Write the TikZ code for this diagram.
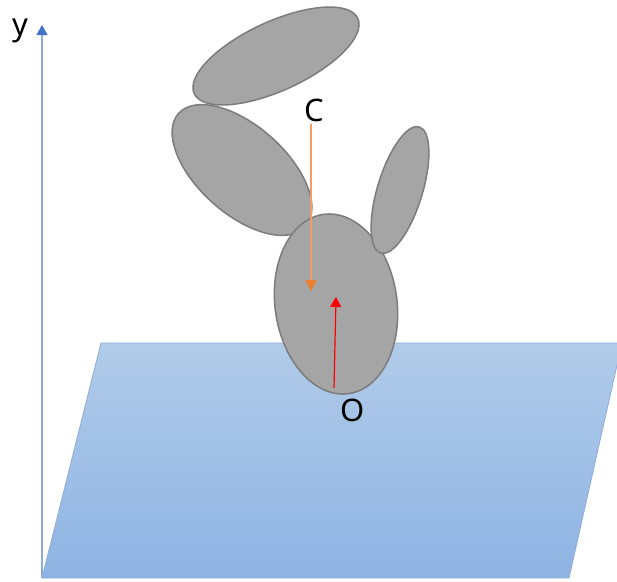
\documentclass[tikz,border=0pt]{standalone}
\usepackage{fontspec}
\setmainfont{Noto Sans}
\usetikzlibrary{shapes.geometric,arrows.meta}
\definecolor{PlaneTop}{HTML}{B1CBE9}
\definecolor{PlaneBottom}{HTML}{8EB4E3}
\definecolor{AxisBlue}{HTML}{8FAADC}
\definecolor{TipBlue}{HTML}{4472C4}
\definecolor{LimbGray}{HTML}{A5A5A5}
\definecolor{EdgeGray}{HTML}{7C7C7C}
\definecolor{ForceOrange}{HTML}{ED7D31}
\tikzset{
  limb/.style={ellipse,draw=EdgeGray,line width=1.5pt,fill=LimbGray,inner sep=0pt,outer sep=0pt},
  axislabel/.style={inner sep=0pt,font=\fontsize{31}{31}\selectfont}
}

\begin{document}
\begin{tikzpicture}[x=1pt,y=-1pt]
    \useasboundingbox (0,0) rectangle (617,581);
    \clip (0,0) rectangle (617,581);
    % ground plane
    \coordinate (planeA) at (101,343);
    \coordinate (planeB) at (622,343);
    \coordinate (planeC) at (569,578);
    \coordinate (planeD) at (42,578);
    \draw[draw=AxisBlue,line width=0.8pt,top color=PlaneTop,bottom color=PlaneBottom]
          (planeA) -- (planeB) -- (planeC) -- (planeD) -- cycle;
    % body parts
    \node[limb,minimum width=180pt,minimum height=69pt,rotate=24.7] (head) at (276,56) {};
    \node[limb,minimum width=170pt,minimum height=88pt,rotate=-41.7] (arm) at (242,170) {};
    \node[limb,minimum width=181pt,minimum height=122pt,rotate=98] (torso) at (336,304) {};
    \node[limb,minimum width=132pt,minimum height=45pt,rotate=73] (ear) at (400,190) {};
    % labels
    \node[axislabel] (ylabel) at (20,31) {y};
    \node[axislabel] (clabel) at (314,110) {C};
    \node[axislabel] (olabel) at (353,410) {O};
    % axis and forces
    \coordinate (origin) at (42,578);
    \coordinate (axistop) at (42,25);
    \coordinate (cstart) at (311,124);
    \coordinate (cend) at (311,291);
    \coordinate (ostart) at (334,388);
    \coordinate (oend) at (336,297);
    \draw[-{Triangle[length=10pt,width=11pt,color=TipBlue]},line width=1.2pt,color=AxisBlue] (origin) -- (axistop);
    \draw[-{Triangle[length=11pt,width=11pt,color=ForceOrange]},line width=1.2pt,color=ForceOrange!75] (cstart) -- (cend);
    \draw[-{Triangle[length=10pt,width=11pt]},line width=1.2pt,color=red] (ostart) -- (oend);
  \end{tikzpicture}
\end{document}
